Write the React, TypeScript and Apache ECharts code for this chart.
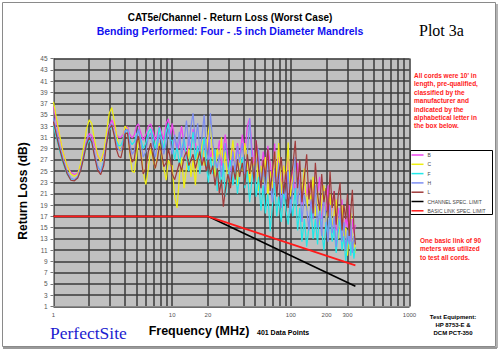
import React, { useEffect, useRef } from "react";
import * as echarts from "echarts";

// Frequencies (MHz) shared by all cord series
const freqs = [
  1, 1.1, 1.2, 1.3, 1.4, 1.5, 1.6, 1.7, 1.8, 1.9,
  2.0, 2.1, 2.2, 2.35, 2.5, 2.65, 2.8, 2.95, 3.1, 3.25,
  3.4, 3.55, 3.7, 3.85, 4.0, 4.2, 4.4, 4.6, 4.8, 5.0,
  5.2, 5.4, 5.7, 6.0, 6.3, 6.6, 6.9, 7.2, 7.5, 7.8,
  8.1, 8.5, 8.9, 9.3, 9.7,
  10, 10.5, 11, 11.5, 12, 12.6, 13.2, 13.8, 14.4, 15,
  15.7, 16.4, 17.1, 17.8, 18.6, 19.4, 20.2, 21, 22, 23,
  24, 25, 26, 27, 28, 29.5, 31, 32.5, 34, 35.5,
  37, 39, 41, 43, 45, 47, 49, 51, 53.5, 56,
  58.5, 61, 64, 67, 70, 73, 76, 79, 83, 87,
  91, 95, 99, 104, 109, 114, 119, 124, 130, 136,
  142, 148, 154, 161, 168, 175, 182, 190, 198, 206,
  214, 223, 232, 241, 250, 260, 270, 280, 290, 300,
  310, 320, 330, 340, 350,
];

const cordB = [
  36.4, 32, 28.5, 26, 24.8, 24.4, 24.7, 26, 28, 30.5,
  31.7, 31.3, 30, 27.8, 26.8, 28, 30.5, 33, 34.1, 33,
  31.5, 31, 31, 31.5, 32.6, 32.9, 31.5, 30.9, 31.5, 33,
  33.4, 32, 30.5, 31.5, 33, 33.4, 32, 30.5, 31.5, 33,
  32, 30.5, 33.5, 34.3, 31,
  33.5, 31, 28.5, 30, 33, 29.5, 27, 31, 29, 32.5,
  30, 27.5, 29, 26.5, 30.5, 28, 31.5, 27, 29.5, 25.5,
  28, 30.5, 26, 29, 31.5, 27.5, 25, 29, 26.5, 30,
  27, 31.5, 28, 33, 34.4, 29, 26, 30.5, 27, 24.5,
  28.5, 25, 29.5, 26.5, 23.5, 29.9, 24, 27.5, 22.5, 26,
  23, 28, 21.5, 25.5, 20, 26.5, 22, 19, 24.5, 20.5,
  23, 18.5, 22.5, 17.5, 21, 24, 16.5, 20.5, 18, 22.5,
  15.5, 19, 21.5, 14.5, 18.5, 16, 20, 13.5, 17, 15,
  19, 12.5, 16.5, 14, 15.5,
];

const cordC = [
  37.3, 32.5, 28.5, 26, 24.5, 24.1, 24.5, 26.5, 29.5, 32.5,
  34.1, 33.5, 31, 28, 26.7, 28.5, 32, 35.3, 36.3, 34,
  31.5, 29.5, 28.5, 30.5, 33, 32.5, 28, 25, 24.8, 27.5,
  31, 29, 24.9, 22.6, 25.5, 29, 27, 25.5, 27.5, 30,
  28, 25.5, 23.4, 27, 26,
  26, 20.5, 18.5, 24, 27.5, 22, 25.5, 29, 24, 27,
  22.5, 28.5, 25, 30.5, 26, 28, 32, 34.1, 27.5, 24,
  29, 26.5, 31, 25, 28.5, 23, 27, 30.5, 26, 22.5,
  28, 25, 30, 26.5, 23, 27.5, 24.5, 29, 21.5, 26,
  23, 27.5, 20.5, 25, 22, 28.5, 24, 30, 21, 26,
  23.5, 30.1, 20.5, 24, 26.5, 19.5, 23, 21, 25.5, 18,
  22, 19.5, 24, 17, 21.5, 15.5, 19.5, 22.5, 16, 18.5,
  21, 14.5, 17.5, 20, 13, 16.5, 19, 12, 15, 10,
  14, 17.5, 11.5, 13, 10.5,
];

const cordF = [
  33, 29.5, 26.5, 24.5, 23.5, 23.4, 23.9, 25.3, 27.5, 29.5,
  30.5, 30, 28.2, 25.8, 25, 26.8, 30, 32.3, 32.9, 31.8,
  30.3, 29.5, 29.6, 30.5, 32, 32.4, 30.5, 29.7, 30.2, 31.5,
  32.2, 31, 29, 30, 32, 32.5, 31, 29, 30.5, 32.8,
  31, 29, 32, 33.5, 30.5,
  30.5, 27, 29.5, 26, 28.5, 31, 27.5, 25, 29, 32,
  27, 29.5, 24.5, 28, 31, 26, 23, 27.5, 24.5, 29,
  21.5, 25, 22, 26.5, 20.5, 24, 27, 22.5, 25.5, 21,
  24.5, 27.5, 22, 25, 19.5, 23.5, 26, 20.5, 24, 18,
  22.5, 17.5, 21, 14.3, 19, 23, 17, 20.5, 16, 21.5,
  18, 15.5, 20, 17, 22, 14.5, 18.5, 12.5, 16.5, 11.6,
  15, 18.5, 13, 16.5, 12, 19, 14.5, 11, 16, 13.5,
  17.5, 12.5, 15, 10.5, 14, 16.5, 11, 13.5, 9, 12,
  15, 10, 12.5, 9.5, 11.5,
];

const cordH = [
  34.5, 30.5, 27.3, 25, 23.8, 23.5, 24.1, 25.6, 28, 30.2,
  31.3, 30.6, 28.6, 26, 24.8, 26.6, 30.2, 32.8, 33.4, 31.8,
  29.8, 28.8, 28.6, 30, 32.2, 32.4, 29.8, 28, 28.6, 31,
  32.5, 30.5, 27.5, 28.5, 31, 31.8, 29.5, 27.5, 29.5, 31.5,
  30.5, 28, 30, 32.5, 30,
  28, 31.5, 29, 32, 27.5, 30.5, 34, 29.5, 33, 35.3,
  30, 33.5, 28.5, 31, 35, 29, 26.5, 35.3, 30, 27,
  25.5, 28, 24, 27.5, 30, 26, 23.5, 28.5, 25, 29.5,
  26.5, 30, 24.5, 28, 34.4, 27, 23, 26.5, 29, 22,
  25.5, 21, 27, 23, 19.5, 25.5, 21.5, 26.5, 18.5, 23,
  20, 25, 17.5, 22, 27.5, 19, 23.5, 16, 21, 18.5,
  14.5, 20, 16.5, 22.5, 15, 18, 13.5, 21.5, 16.5, 12.5,
  19, 14, 17, 11.5, 15.5, 18.5, 12.5, 16, 11, 14.5,
  12, 16.5, 10.5, 13.5, 12,
];

const cordL = [
  33.8, 29.8, 26.8, 24.6, 23.4, 23.3, 23.8, 25.2, 27.5, 29.8,
  31, 30.2, 28, 25.2, 24.4, 26, 29.8, 32.5, 33.2, 31.3,
  28.8, 27.6, 27.4, 29, 31.6, 31.8, 28.5, 26.6, 27.2, 30,
  31.2, 28.5, 24.5, 25.5, 28.5, 30, 27.5, 25.5, 27, 29.5,
  28.5, 25.8, 26.5, 29, 27,
  24.5, 23.5, 25, 26.5, 25, 27.5, 28.5, 26, 27, 28,
  25.5, 27, 28.5, 26, 27.5, 25, 27, 24.5, 26, 22.5,
  25.5, 21, 23.5, 18.7, 21.5, 24.5, 22, 26, 23.5, 27,
  24, 26.5, 22.5, 28, 24.5, 27.5, 23, 30.5, 25.5, 22,
  27, 24, 29, 21.5, 25, 28.5, 20.5, 24.5, 27.5, 21,
  25, 18.5, 23, 26, 30.4, 22, 27, 19.5, 24, 28,
  20, 23.5, 17.5, 26.5, 21, 18, 24.5, 19.5, 22, 17,
  25, 18.5, 21.5, 15.5, 20.5, 23, 14.5, 19, 16.5, 21,
  13.5, 18, 21.7, 15, 12,
];

const limitFreqs = [1, 20, 350];
const channelLimit = [17, 17, 4.6];
const basicLinkLimit = [17, 17, 8.3];

const xGridValues = [
  1, 2, 3, 4, 5, 6, 7, 8, 9,
  10, 20, 30, 40, 50, 60, 70, 80, 90,
  100, 200, 300, 400, 500, 600, 700, 800, 900, 1000,
];
const xLabelValues = [1, 10, 20, 100, 200, 300, 1000];

const seriesNames = ["B", "C", "F", "H", "L", "CHANNEL SPEC. LIMIT", "BASIC LINK SPEC. LIMIT"];
const seriesColors = ["#ee44ee", "#eeee10", "#22e8e8", "#7d8ef2", "#a03c3c", "#000000", "#ff1a1a"];

const noteLines = [
  "All cords were 10' in",
  "length, pre-qualified,",
  "classified by the",
  "manufacturer and",
  "indicated by the",
  "alphabetical letter in",
  "the box below.",
];
const linkLines = ["One basic link of 90", "meters was utilized", "to test all cords."];
const equipLines = ["Test Equipment:", "HP 8753-E &", "DCM PCT-350"];

export default function App() {
  const ref = useRef<HTMLDivElement>(null);
  useEffect(() => {
    if (!ref.current) return;
    const chart = echarts.init(ref.current, null, { renderer: "svg" });
    const cords = [cordB, cordC, cordF, cordH, cordL];
    const series: any[] = cords.map((arr, i) => ({
      name: seriesNames[i],
      type: "line",
      symbol: "none",
      showSymbol: false,
      data: freqs.map((f, j) => [f, arr[j]]),
      lineStyle: { color: seriesColors[i], width: 1.2 },
      itemStyle: { color: seriesColors[i] },
    }));
    series.push({
      name: seriesNames[5],
      type: "line",
      symbol: "none",
      data: limitFreqs.map((f, j) => [f, channelLimit[j]]),
      lineStyle: { color: seriesColors[5], width: 1.6 },
      itemStyle: { color: seriesColors[5] },
    });
    series.push({
      name: seriesNames[6],
      type: "line",
      symbol: "none",
      data: limitFreqs.map((f, j) => [f, basicLinkLimit[j]]),
      lineStyle: { color: seriesColors[6], width: 1.8 },
      itemStyle: { color: seriesColors[6] },
    });

    const txt = (x: number, y: number, text: string, font: string, fill: string, align = "left", extra: any = {}) => ({
      type: "text",
      x,
      y,
      ...extra,
      style: { text, font, fill, textAlign: align, textVerticalAlign: "middle" },
    });

    const graphics: any[] = [
      { type: "rect", shape: { x: 2.5, y: 2.5, width: 493, height: 344 }, style: { fill: "none", stroke: "#8a8a8a", lineWidth: 1 }, z: -1 },
      { type: "line", shape: { x1: 3, y1: 348, x2: 497, y2: 348 }, style: { stroke: "#9a9a9a", lineWidth: 2 }, z: -1 },
      { type: "line", shape: { x1: 497, y1: 4, x2: 497, y2: 348 }, style: { stroke: "#9a9a9a", lineWidth: 1.5 }, z: -1 },
      { type: "rect", shape: { x: 410.5, y: 150.5, width: 82, height: 64 }, style: { fill: "#ffffff", stroke: "#000000", lineWidth: 1 }, z: 0 },
      txt(230, 17, "CAT5e/Channel - Return Loss (Worst Case)", "bold 10px 'Liberation Sans', Arial", "#000000", "center"),
      txt(230, 30.5, "Bending Performed: Four - .5 inch Diameter Mandrels", "bold 10.5px 'Liberation Sans', Arial", "#1010f0", "center"),
      txt(419, 30, "Plot 3a", "16px 'Liberation Serif', 'Times New Roman', serif", "#000000", "left"),
      txt(23, 191, "Return Loss (dB)", "bold 12px 'Liberation Sans', Arial", "#000000", "center", { rotation: Math.PI / 2 }),
      txt(199, 331, "Frequency (MHz)", "bold 12.5px 'Liberation Sans', Arial", "#000000", "center"),
      txt(257, 332, "401 Data Points", "bold 7px 'Liberation Sans', Arial", "#000000", "left"),
      txt(50, 333, "PerfectSite", "17.5px 'Liberation Serif', 'Times New Roman', serif", "#1c1cd0", "left"),
    ];
    noteLines.forEach((l, i) => graphics.push(txt(414, 75.5 + i * 8.4, l, "bold 6.5px 'Liberation Sans', Arial", "#ff1a1a", "left")));
    linkLines.forEach((l, i) => graphics.push(txt(420, 240 + i * 8.5, l, "bold 6.5px 'Liberation Sans', Arial", "#ff1a1a", "left")));
    equipLines.forEach((l, i) => graphics.push(txt(453, 316.5 + i * 8.2, l, "bold 6px 'Liberation Sans', Arial", "#000000", "center")));

    chart.setOption({
      animation: false,
      backgroundColor: "#ffffff",
      grid: {
        left: 53.5,
        top: 58.5,
        width: 356,
        height: 248,
        show: true,
        backgroundColor: "#c0c0c0",
        borderWidth: 0,
      },
      legend: {
        data: seriesNames,
        orient: "vertical",
        left: 411.5,
        top: 151.5,
        padding: 0,
        itemWidth: 12,
        itemHeight: 1.5,
        itemGap: 2.3,
        icon: "rect",
        selectedMode: false,
        textStyle: { fontSize: 5, color: "#444", lineHeight: 7, fontFamily: "'Liberation Sans', Arial", padding: [0, 0, 0, -1] },
      },
      xAxis: {
        type: "log",
        logBase: 10,
        min: 1,
        max: 1000,
        axisLine: { show: true, lineStyle: { color: "#888", width: 1 } },
        axisTick: { show: false, customValues: xGridValues },
        axisLabel: {
          customValues: xLabelValues,
          fontSize: 6,
          color: "#555",
          margin: 5,
          fontFamily: "'Liberation Sans', Arial",
          formatter: (v: number) => String(Math.round(v)),
        },
        splitLine: { show: true, lineStyle: { color: "#3a3a3a", width: 1.5 } },
      },
      yAxis: {
        type: "value",
        min: 1,
        max: 45,
        interval: 2,
        axisLine: { show: true, lineStyle: { color: "#999", width: 1 } },
        axisTick: { show: true, length: 3, lineStyle: { color: "#777" } },
        axisLabel: { fontSize: 6.5, color: "#555", margin: 6, fontFamily: "'Liberation Sans', Arial" },
        splitLine: { show: true, lineStyle: { color: "#3a3a3a", width: 1.5 } },
      },
      graphic: graphics,
      series,
    });
    return () => chart.dispose();
  }, []);
  return <div ref={ref} style={{ position: "fixed", left: 0, top: 0, width: 500, height: 353 }} />;
}
